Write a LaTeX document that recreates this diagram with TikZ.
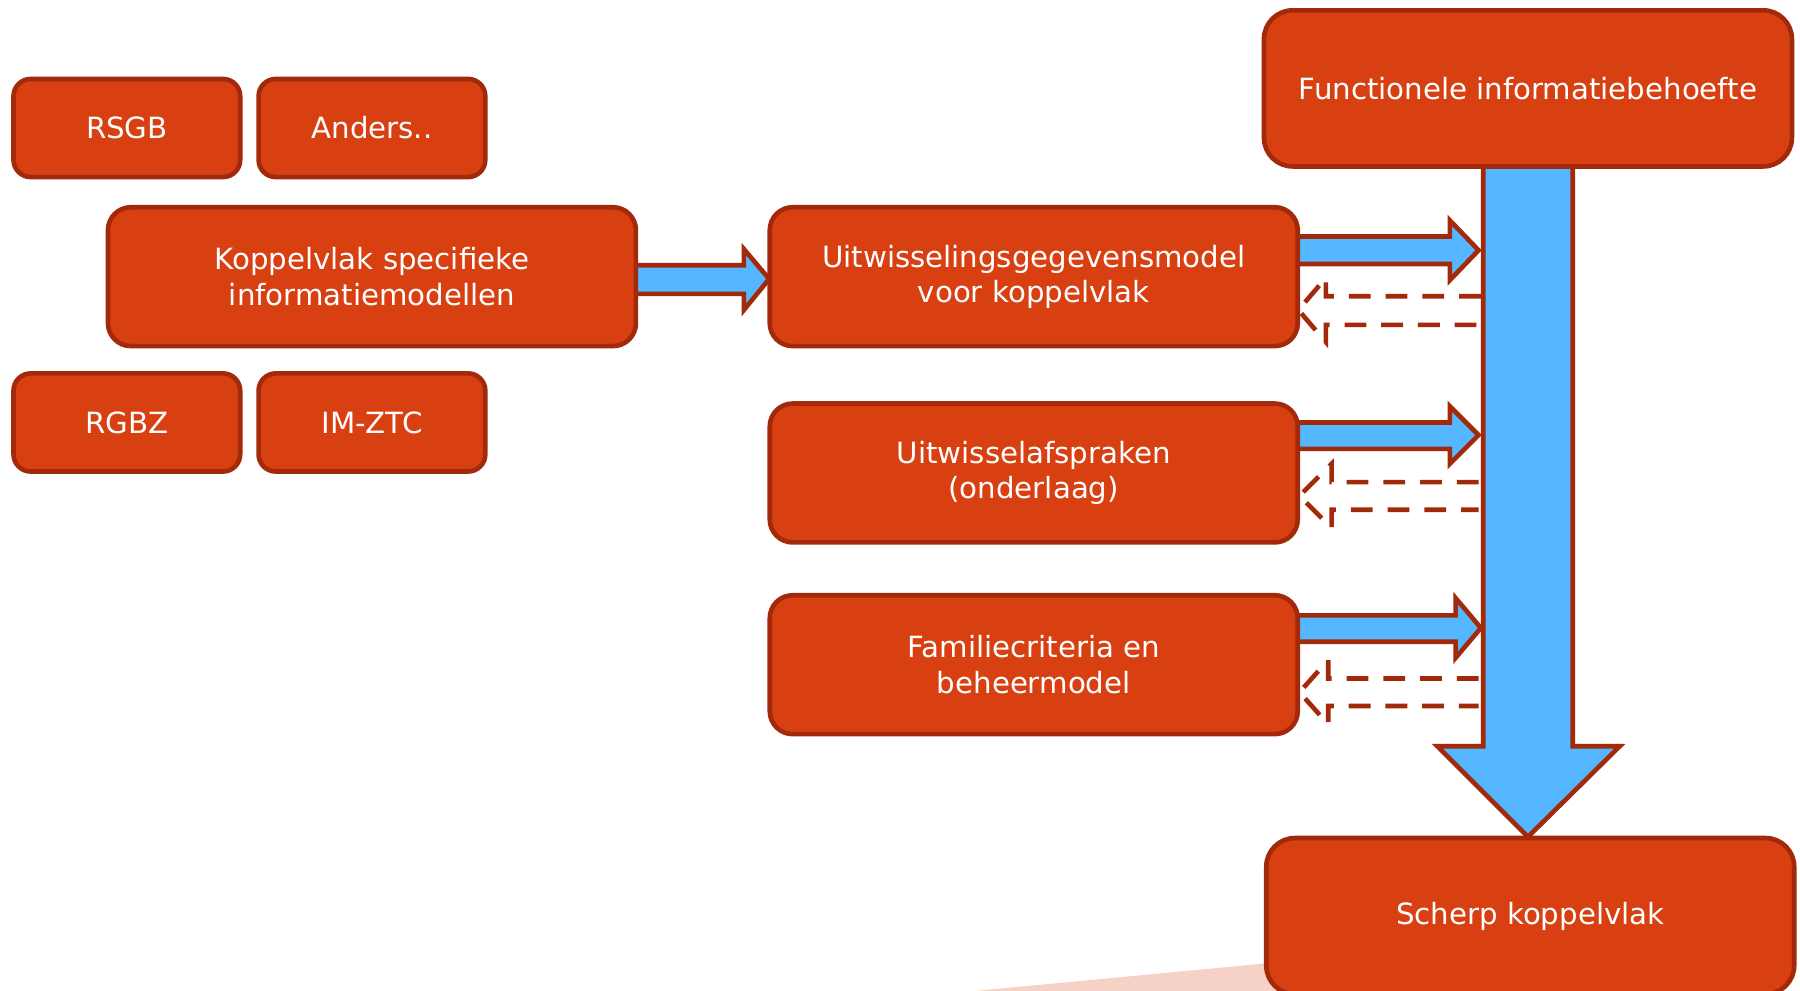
\documentclass[tikz,border=0pt]{standalone}
\usepackage{fontspec}
\setmainfont{DejaVu Sans}
\definecolor{boxfill}{HTML}{D84012}
\definecolor{boxline}{HTML}{A2290A}
\definecolor{arrowblue}{HTML}{55B7FF}
\definecolor{pale}{HTML}{F6D2C6}
\tikzset{
  box/.style={draw=boxline, fill=boxfill, line width=2.3pt, rounded corners=0.4cm,
    text=white, align=center, font=\fontsize{14.5}{17.5}\selectfont, inner sep=0pt},
  smallbox/.style={box, rounded corners=0.3cm, minimum width=3.95cm, minimum height=1.71cm},
  widebox/.style={box, minimum width=9.2cm, minimum height=2.42cm},
  topbox/.style={box, rounded corners=0.5cm, minimum width=9.2cm, minimum height=2.72cm},
  bluearrow/.style={draw=boxline, fill=arrowblue, line width=2.3pt, line join=miter},
  dasharrow/.style={draw=boxline, line width=2.3pt, dash pattern=on 0.38cm off 0.26cm}
}
\begin{document}
\begin{tikzpicture}[x=0.02cm,y=-0.02cm]
\useasboundingbox (0,0) rectangle (1568,863);
% pale shape at bottom
\fill[pale] (820,866) -- (1200,830) -- (1200,866) -- cycle;
% big downward arrow
\draw[bluearrow] (1292,140) -- (1370,140) -- (1370,650) -- (1411,650) -- (1331,729) -- (1252,650) -- (1292,650) -- cycle;
% blue right arrows
\draw[bluearrow] (545,231) -- (648,231) -- (648,217) -- (670,243) -- (648,270) -- (648,256) -- (545,256) -- cycle;
\draw[bluearrow] (1120,206) -- (1263,206) -- (1263,192) -- (1288,218) -- (1263,244) -- (1263,230) -- (1120,230) -- cycle;
\draw[bluearrow] (1120,368) -- (1263,368) -- (1263,354) -- (1288,379) -- (1263,404) -- (1263,391) -- (1120,391) -- cycle;
\draw[bluearrow] (1120,536) -- (1268,536) -- (1268,521) -- (1290,547) -- (1268,573) -- (1268,559) -- (1120,559) -- cycle;
% dashed left arrows
\draw[dasharrow] (1290,258) -- (1155,258) -- (1155,242) -- (1131,270) -- (1155,298) -- (1155,283) -- (1290,283);
\draw[dasharrow] (1288,420) -- (1160,420) -- (1160,404) -- (1132,432) -- (1160,460) -- (1160,444) -- (1288,444);
\draw[dasharrow] (1288,591) -- (1157,591) -- (1157,575) -- (1132,603) -- (1157,631) -- (1157,615) -- (1288,615);
% boxes
\node[smallbox] (rsgb) at (110.5,111.5) {RSGB};
\node[smallbox] (anders) at (324,111.5) {Anders..};
\node[widebox] (kop) at (324,241) {Koppelvlak specifieke\\informatiemodellen};
\node[smallbox] (rgbz) at (110.5,368) {RGBZ};
\node[smallbox] (imztc) at (324,368) {IM-ZTC};
\node[widebox] (uit) at (900.5,241) {Uitwisselingsgegevensmodel\\voor koppelvlak};
\node[widebox] (afs) at (900.5,412) {Uitwisselafspraken\\(onderlaag)};
\node[widebox] (fam) at (900.5,579) {Familiecriteria en\\beheermodel};
\node[topbox] (func) at (1331,77) {Functionele informatiebehoefte};
\node[topbox] (scherp) at (1333,798) {Scherp koppelvlak};
\end{tikzpicture}
\end{document}
